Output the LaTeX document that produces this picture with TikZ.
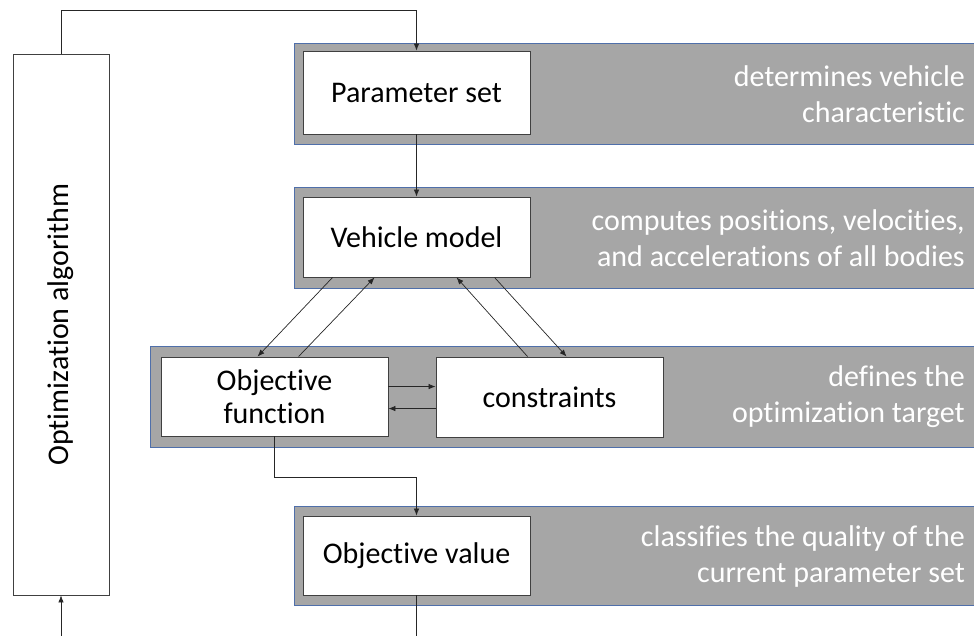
\documentclass[tikz,border=0pt]{standalone}
\usepackage{fontspec}
\setmainfont{Carlito}[Ligatures={NoCommon}]
\usetikzlibrary{arrows.meta,calc}
\definecolor{bandgray}{HTML}{A6A6A6}
\definecolor{bandblue}{HTML}{4F6FAA}
\definecolor{boxline}{HTML}{404040}
\begin{document}
\begin{tikzpicture}[x=1pt,y=-1pt,
  band/.style={fill=bandgray,draw=bandblue,line width=0.8pt},
  blockbox/.style={draw=boxline,fill=white,line width=0.9pt,minimum width=227pt,minimum height=80pt,inner sep=0pt,font=\fontsize{30}{33}\selectfont,align=center},
  bandtext/.style={text=white,anchor=east,align=right,inner sep=0pt,font=\fontsize{30}{36}\selectfont},
  conn/.style={draw=black!85,line width=0.7pt},
  arr/.style={conn,-{Latex[length=7pt,width=5.5pt]}}]
\useasboundingbox (0,0) rectangle (974,636);
% bands
\path[band] (294,43) rectangle (980,144);
\path[band] (294,187) rectangle (980,288);
\path[band] (150,346) rectangle (980,447);
\path[band] (294,506) rectangle (980,605);
% band texts
\node[bandtext] (t1) at (965,94) {determines vehicle\\characteristic};
\node[bandtext] (t2) at (965,238) {computes positions, velocities,\\and accelerations of all bodies};
\node[bandtext] (t3) at (965,397) {defines the\\optimization target};
\node[bandtext] (t4) at (965,556) {classifies the quality of the\\current parameter set};
% blocks
\node[blockbox,minimum height=83pt] (ps) at (416.5,92.5) {Parameter set};
\node[blockbox] (vm) at (416.5,237) {Vehicle model};
\node[blockbox,minimum height=79pt] (of) at (274.5,396.5) {Objective\\function};
\node[blockbox] (cs) at (549.5,397) {constraints};
\node[blockbox,minimum height=79pt] (ov) at (416.5,555.5) {Objective value};
\node[draw=boxline,fill=white,line width=0.9pt,minimum width=96pt,minimum height=541pt,inner sep=0pt] (oa) at (61,324.5) {};
\node[rotate=90,font=\fontsize{30}{34}\selectfont] (oat) at (oa.center) {Optimization algorithm};
% connectors
\coordinate (topc) at (416.5,10);
\draw[arr] (oa.north) |- (topc) -- (ps.north);
\draw[arr] (ps.south) -- (vm.north);
\draw[arr] ($(vm.south west)+(30,0)$) -- ($(of.north west)+(97,0)$);
\draw[arr] ($(of.north west)+(138,0)$) -- ($(vm.south west)+(72,0)$);
\draw[arr] ($(cs.north west)+(92,0)$) -- ($(vm.south west)+(154,0)$);
\draw[arr] ($(vm.south west)+(192,0)$) -- ($(cs.north west)+(131,0)$);
\draw[arr] ($(of.north east)+(0,30)$) -- ($(cs.north west)+(0,30)$);
\draw[arr] ($(cs.north west)+(0,52)$) -- ($(of.north east)+(0,52)$);
\draw[arr] (of.south) -- ++(0,41) -| (ov.north);
\coordinate (ovout) at (416.5,636);
\draw[conn] (ov.south) -- (ovout);
\coordinate (oain) at (61,636);
\draw[arr] (oain) -- (oa.south);
\end{tikzpicture}
\end{document}
